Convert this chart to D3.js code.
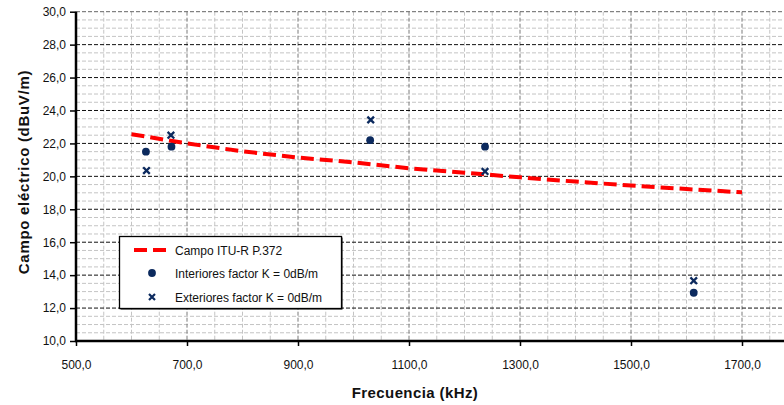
<!DOCTYPE html>
<html><head><meta charset="utf-8">
<script src="https://cdn.jsdelivr.net/npm/d3@7"></script>
<style>body{margin:0;background:#fff;}svg{display:block;font-family:"Liberation Sans",Arial,sans-serif;}</style>
</head><body><svg id="c" width="784" height="405"></svg>
<script>
// Data
const itu_freq = [600, 700, 800, 900, 1000, 1100, 1200, 1300, 1400, 1500, 1600, 1700];
const itu_field = [22.56, 22.0, 21.52, 21.14, 20.85, 20.49, 20.22, 19.94, 19.68, 19.44, 19.23, 19.03];
const int_freq = [626, 672, 1030, 1237, 1613];
const int_field = [21.5, 21.8, 22.2, 21.8, 12.93];
const ext_freq = [627, 671, 1031, 1237, 1613];
const ext_field = [20.35, 22.5, 23.43, 20.3, 13.66];
const xTicks = [500, 700, 900, 1100, 1300, 1500, 1700];
const yTicks = [10, 12, 14, 16, 18, 20, 22, 24, 26, 28, 30];
const legendLabels = ["Campo ITU-R P.372", "Interiores factor K = 0dB/m", "Exteriores factor K = 0dB/m"];
const fmt = v => d3.format(".1f")(v).replace(".", ",");

const svg = d3.select("#c");
const W = 784;
const x = d3.scaleLinear().domain([500, 1900]).range([76, 853]);
const y = d3.scaleLinear().domain([10, 30]).range([341, 11.7]);
const navy = "#0c2a5e";

const defs = svg.append("defs");
defs.append("clipPath").attr("id", "clip").append("rect").attr("x", 76).attr("y", 0).attr("width", W - 76).attr("height", 345);

const grid = svg.append("g").attr("clip-path", "url(#clip)");
const minorY = d3.range(10.5, 30, 0.5).filter(v => Math.abs(v / 2 - Math.round(v / 2)) > 1e-6);
grid.selectAll(".mh").data(minorY).join("line")
  .attr("x1", 76).attr("x2", W).attr("y1", d => y(d)).attr("y2", d => y(d))
  .attr("stroke", "#c4c4c4").attr("stroke-width", 1).attr("stroke-dasharray", "4,2");
const minorX = d3.range(550, 1800, 50).filter(v => (v - 500) % 200 !== 0);
grid.selectAll(".mv").data(minorX).join("line")
  .attr("y1", 11.7).attr("y2", 341).attr("x1", d => x(d)).attr("x2", d => x(d))
  .attr("stroke", "#c4c4c4").attr("stroke-width", 1).attr("stroke-dasharray", "4,2");
grid.selectAll(".Mv").data(xTicks.slice(1)).join("line")
  .attr("y1", 11.7).attr("y2", 341).attr("x1", d => x(d)).attr("x2", d => x(d))
  .attr("stroke", "#7a7a7a").attr("stroke-width", 1).attr("stroke-dasharray", "4,2");
grid.selectAll(".Mh").data(yTicks.slice(1)).join("line")
  .attr("x1", 76).attr("x2", W).attr("y1", d => y(d)).attr("y2", d => y(d))
  .attr("stroke", d => d === 30 ? "#666" : "#111").attr("stroke-width", 1).attr("stroke-dasharray", "4,2");

// axes
const yAxis = svg.append("g").attr("transform", "translate(76,0)")
  .call(d3.axisLeft(y).tickValues(yTicks).tickFormat(fmt).tickSize(6).tickPadding(4));
const xAxis = svg.append("g").attr("transform", "translate(0,341)")
  .call(d3.axisBottom(x).tickValues(xTicks).tickFormat(fmt).tickSize(5).tickPadding(14));
[yAxis, xAxis].forEach(g => {
  g.select(".domain").remove();
  g.selectAll("text").attr("font-size", 12).attr("fill", "#111").attr("font-family", "Liberation Sans, Arial, sans-serif");
  g.selectAll("line").attr("stroke", "#000").attr("stroke-width", 1.5);
});
svg.append("line").attr("x1", 76).attr("x2", 76).attr("y1", 11.7).attr("y2", 342).attr("stroke", "#000").attr("stroke-width", 2.5);
svg.append("line").attr("x1", 75).attr("x2", W).attr("y1", 341).attr("y2", 341).attr("stroke", "#000").attr("stroke-width", 2.5);

// ITU line
const ituData = itu_freq.map((f, i) => [f, itu_field[i]]);
svg.append("path").datum(ituData)
  .attr("d", d3.line().x(d => x(d[0])).y(d => y(d[1])))
  .attr("fill", "none").attr("stroke", "#ff0000").attr("stroke-width", 4)
  .attr("stroke-dasharray", "13,6");

// markers
const crossPath = s => `M${-s},${-s}L${s},${s}M${-s},${s}L${s},${-s}`;
svg.selectAll(".int").data(int_freq.map((f, i) => [f, int_field[i]])).join("circle")
  .attr("cx", d => x(d[0])).attr("cy", d => y(d[1])).attr("r", 3.9).attr("fill", navy);
svg.selectAll(".ext").data(ext_freq.map((f, i) => [f, ext_field[i]])).join("path")
  .attr("transform", d => `translate(${x(d[0])},${y(d[1])})`)
  .attr("d", crossPath(3.3)).attr("stroke", navy).attr("stroke-width", 2.3).attr("fill", "none");

// titles
svg.append("text").attr("x", 415).attr("y", 398).attr("text-anchor", "middle")
  .attr("font-weight", "bold").attr("font-size", 15).attr("letter-spacing", 0.4).attr("fill", "#111").text("Frecuencia (kHz)");
svg.append("text").attr("transform", "translate(29,172) rotate(-90)").attr("text-anchor", "middle")
  .attr("font-weight", "bold").attr("font-size", 15).attr("letter-spacing", 0.7).attr("fill", "#111").text("Campo eléctrico (dBuV/m)");

// legend
const lg = svg.append("g");
lg.append("rect").attr("x", 120.5).attr("y", 237.5).attr("width", 222).attr("height", 72).attr("fill", "#000");
lg.append("rect").attr("x", 119.5).attr("y", 236.5).attr("width", 222).attr("height", 72)
  .attr("fill", "#fff").attr("stroke", "#000").attr("stroke-width", 1.3);
const rows = [250, 273, 297];
lg.append("line").attr("x1", 134).attr("x2", 172).attr("y1", rows[0]).attr("y2", rows[0])
  .attr("stroke", "#ff0000").attr("stroke-width", 4).attr("stroke-dasharray", "13,6");
lg.append("circle").attr("cx", 152).attr("cy", rows[1]).attr("r", 3.9).attr("fill", navy);
lg.append("path").attr("transform", `translate(152,${rows[2]})`).attr("d", crossPath(3))
  .attr("stroke", navy).attr("stroke-width", 2.2).attr("fill", "none");
lg.selectAll(".lt").data(legendLabels).join("text")
  .attr("x", 175).attr("y", (d, i) => rows[i] + 4.5).attr("font-size", 12).attr("fill", "#111").text(d => d);
</script></body></html>
